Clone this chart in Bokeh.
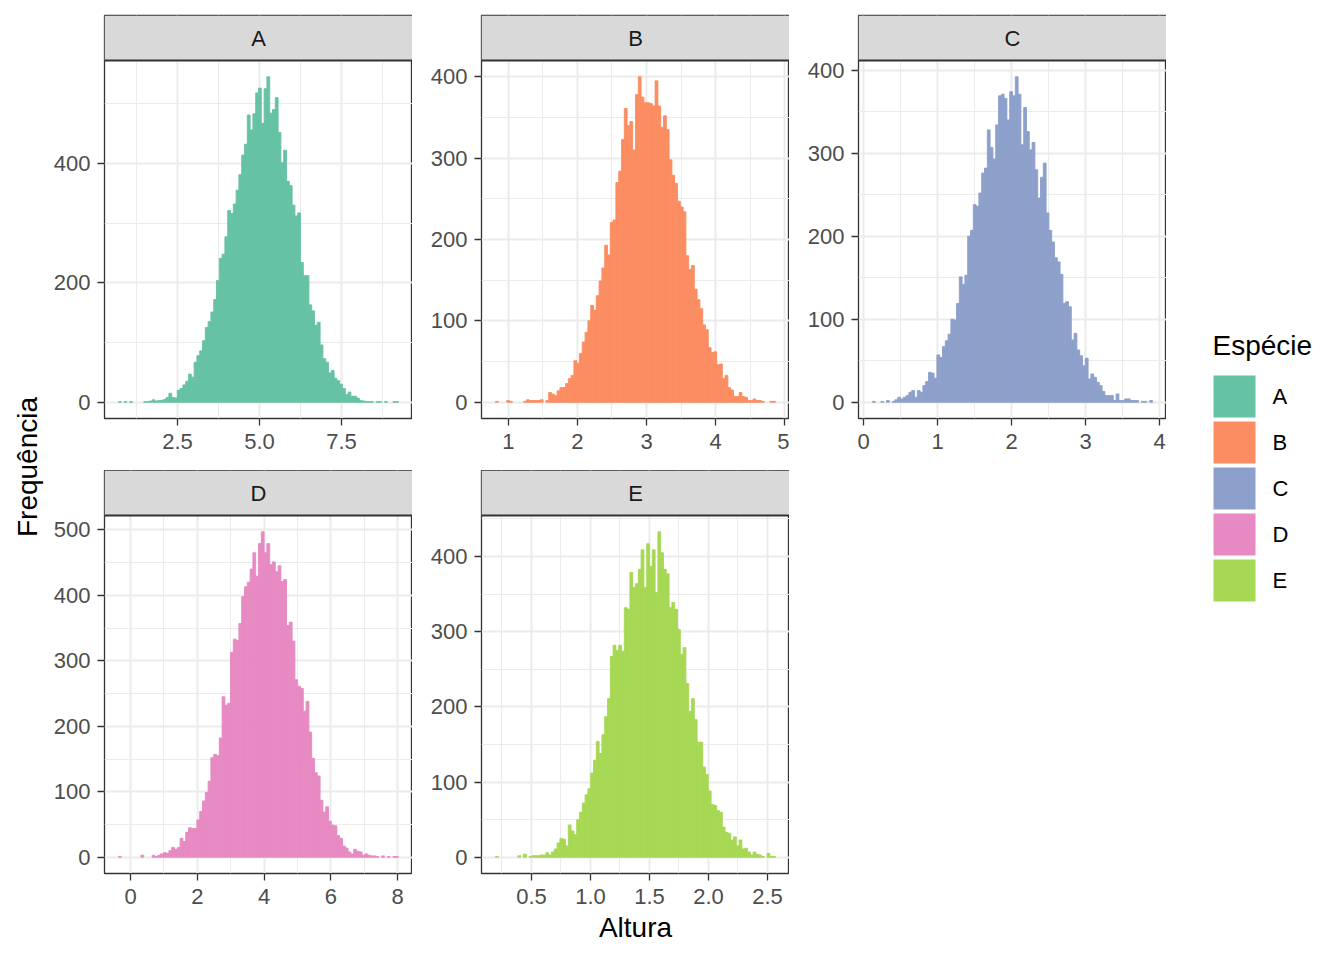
import math
from bokeh.plotting import figure
from bokeh.layouts import row, column
from bokeh.models import Range1d, FixedTicker, Span
from bokeh.core.properties import value
from bokeh.embed import file_html
from bokeh.resources import INLINE

# ---------------- data ----------------
species = ["A", "B", "C", "D", "E"]
colors = ["#66C2A5", "#FC8D62", "#8DA0CB", "#E78AC3", "#A6D854"]

counts_A = [1, 0, 1, 0, 1, 0, 0, 0, 0, 1, 1, 2, 4, 2, 3, 3, 5, 8, 15, 8,
            7, 20, 23, 29, 35, 47, 42, 67, 78, 86, 103, 125, 135, 151, 172, 204, 241, 248, 277, 321,
            316, 332, 355, 381, 414, 432, 481, 456, 483, 518, 526, 467, 525, 545, 484, 490, 510, 452, 401, 422,
            370, 363, 330, 312, 317, 234, 212, 212, 163, 153, 129, 134, 96, 73, 67, 49, 53, 40, 36, 30,
            23, 13, 17, 10, 10, 7, 3, 2, 1, 1, 1, 0, 1, 1, 0, 1, 0, 0, 1, 1]
counts_B = [1, 0, 0, 0, 2, 1, 0, 0, 0, 0, 1, 3, 2, 2, 2, 2, 3, 0, 2, 12,
            10, 8, 14, 18, 18, 23, 29, 33, 51, 48, 60, 74, 86, 100, 119, 113, 131, 149, 165, 193,
            181, 221, 224, 270, 284, 323, 361, 340, 345, 310, 378, 400, 375, 368, 368, 367, 364, 395, 364, 338,
            352, 335, 298, 279, 269, 247, 240, 234, 180, 163, 168, 139, 126, 115, 95, 89, 67, 61, 62, 46,
            47, 29, 33, 18, 15, 7, 7, 12, 7, 6, 2, 2, 4, 2, 2, 1, 0, 0, 1, 1]
counts_C = [1, 0, 0, 1, 0, 2, 0, 1, 3, 6, 4, 6, 8, 12, 14, 6, 14, 12, 20, 25,
            36, 35, 29, 57, 54, 67, 74, 82, 100, 99, 119, 151, 142, 153, 200, 207, 238, 236, 252, 276,
            282, 328, 307, 293, 334, 369, 371, 366, 340, 374, 369, 392, 371, 310, 355, 326, 304, 313, 280, 246,
            271, 288, 228, 207, 193, 174, 169, 154, 119, 121, 115, 75, 83, 63, 56, 44, 53, 28, 34, 30,
            24, 20, 13, 8, 8, 8, 2, 10, 2, 2, 4, 4, 2, 2, 2, 0, 1, 1, 0, 2]
counts_D = [1, 0, 0, 0, 0, 0, 0, 0, 3, 0, 0, 0, 3, 1, 3, 5, 7, 6, 10, 15,
            12, 15, 29, 24, 38, 45, 44, 44, 57, 70, 86, 99, 116, 152, 157, 155, 182, 245, 232, 235,
            313, 333, 331, 357, 398, 413, 420, 440, 465, 429, 479, 497, 465, 479, 447, 451, 436, 445, 421, 424,
            354, 359, 330, 271, 261, 258, 223, 238, 191, 151, 129, 124, 87, 69, 77, 55, 49, 48, 33, 29,
            17, 14, 8, 5, 12, 9, 8, 3, 5, 3, 2, 2, 1, 0, 2, 0, 1, 0, 1, 1]
counts_E = [1, 0, 0, 0, 0, 0, 0, 0, 2, 0, 4, 0, 1, 2, 2, 2, 3, 3, 6, 3,
            7, 11, 19, 25, 24, 15, 43, 35, 30, 50, 60, 72, 83, 91, 112, 129, 154, 138, 163, 187,
            211, 267, 282, 275, 282, 274, 332, 330, 379, 359, 364, 383, 409, 359, 417, 387, 409, 352, 433, 405,
            383, 377, 332, 339, 330, 303, 270, 279, 231, 194, 211, 183, 153, 153, 120, 110, 88, 70, 69, 62,
            60, 40, 33, 32, 23, 27, 15, 23, 11, 12, 7, 3, 7, 4, 3, 1, 0, 5, 1, 1]
counts = [counts_A, counts_B, counts_C, counts_D, counts_E]

# first and last bin edge of each histogram (Altura)
bin_start = [0.701, 0.812, 0.121, -0.36, 0.195]
bin_end = [9.238, 4.869, 3.905, 8.03, 2.568]

x_ticks = [[2.5, 5.0, 7.5], [1, 2, 3, 4, 5], [0, 1, 2, 3, 4], [0, 2, 4, 6, 8],
           [0.5, 1.0, 1.5, 2.0, 2.5]]
x_tick_labels = [["2.5", "5.0", "7.5"], ["1", "2", "3", "4", "5"], ["0", "1", "2", "3", "4"],
                 ["0", "2", "4", "6", "8"], ["0.5", "1.0", "1.5", "2.0", "2.5"]]
x_minor = [[1.25, 3.75, 6.25, 8.75], [1.5, 2.5, 3.5, 4.5], [0.5, 1.5, 2.5, 3.5], [1, 3, 5, 7],
           [0.25, 0.75, 1.25, 1.75, 2.25]]
y_ticks = [[0, 200, 400], [0, 100, 200, 300, 400], [0, 100, 200, 300, 400],
           [0, 100, 200, 300, 400, 500], [0, 100, 200, 300, 400]]
y_minor = [[100, 300, 500], [50, 150, 250, 350], [50, 150, 250, 350],
           [50, 150, 250, 350, 450], [50, 150, 250, 350, 450]]

x_title = "Altura"
y_title = "Frequência"
legend_title = "Espécie"

# ---------------- style ----------------
FONT = "Liberation Sans"
DARK = "#333333"
GRID = "#ebebeb"
STRIP_PX = 45
PANEL_PX = 358
TOTAL_H = 953


def panel(i, width, left, top, bottom, xlabel=None):
    c = counts[i]
    n = len(c)
    w = (bin_end[i] - bin_start[i]) / n
    lefts = [bin_start[i] + k * w for k in range(n)]
    rights = [l + w for l in lefts]
    span = bin_end[i] - bin_start[i]
    xlo, xhi = bin_start[i] - 0.05 * span, bin_end[i] + 0.05 * span
    ymax = max(c)
    ylo, yhi = -0.05 * ymax, 1.05 * ymax
    ystrip = yhi + STRIP_PX * (yhi - ylo) / PANEL_PX
    p = figure(width=width, height=top + STRIP_PX + PANEL_PX + bottom,
               output_backend="svg", toolbar_location=None,
               x_range=Range1d(xlo, xhi), y_range=Range1d(ylo, ystrip),
               min_border_left=left, min_border_right=0, min_border_top=top,
               min_border_bottom=bottom)
    p.quad(left=lefts, right=rights, bottom=0, top=c, fill_color=colors[i],
           line_color=colors[i], line_width=0.9,
           line_alpha=[1 if v > 0 else 0 for v in c])
    # facet strip
    p.quad(left=[xlo], right=[xhi], bottom=[yhi], top=[ystrip], fill_color="#d9d9d9",
           line_color=None)
    p.add_layout(Span(location=yhi, dimension="width", line_color=DARK, line_width=2))
    p.text(x=[(xlo + xhi) / 2], y=[(yhi + ystrip) / 2], text=[species[i]],
           text_align="center", text_baseline="middle", text_font=value(FONT),
           text_font_size="22px", text_color="#1a1a1a")

    p.xaxis.ticker = FixedTicker(ticks=x_ticks[i], minor_ticks=x_minor[i])
    p.xaxis.major_label_overrides = dict(zip(x_ticks[i], x_tick_labels[i]))
    p.yaxis.ticker = FixedTicker(ticks=y_ticks[i], minor_ticks=y_minor[i])
    for ax in (p.xaxis[0], p.yaxis[0]):
        ax.axis_line_color = None
        ax.major_tick_line_color = DARK
        ax.major_tick_line_width = 1.3
        ax.major_tick_out = 7
        ax.major_tick_in = 0
        ax.minor_tick_line_color = None
        ax.major_label_text_font = FONT
        ax.major_label_text_font_size = "22px"
        ax.major_label_text_color = "#4d4d4d"
    p.xaxis.major_label_standoff = 8
    p.yaxis.major_label_standoff = 7
    if xlabel:
        p.xaxis.axis_label = xlabel
        p.xaxis.axis_label_text_font = FONT
        p.xaxis.axis_label_text_font_size = "28px"
        p.xaxis.axis_label_text_font_style = "normal"
        p.xaxis.axis_label_text_color = "black"
        p.xaxis.axis_label_standoff = 5
    for g in (p.xgrid[0], p.ygrid[0]):
        g.grid_line_color = GRID
        g.grid_line_width = 2
        g.minor_grid_line_color = GRID
        g.minor_grid_line_width = 1
    p.outline_line_color = DARK
    p.outline_line_width = 1.3
    p.background_fill_color = "white"
    p.border_fill_color = "white"
    return p


# left title column
ytf = figure(width=48, height=TOTAL_H, output_backend="svg", toolbar_location=None,
             x_range=Range1d(0, 48), y_range=Range1d(TOTAL_H, 0),
             x_axis_location=None, y_axis_location=None, min_border=0)
ytf.grid.visible = False
ytf.outline_line_color = None
ytf.text(x=[27], y=[466.5], text=[y_title], angle=math.pi / 2, text_align="center",
         text_baseline="middle", text_font=value(FONT), text_font_size="28px",
         text_color="black")

# panels (strip drawn inside each panel)
pA = panel(0, 364, 56, 15, 52)
pD = panel(3, 364, 56, 0, 80)
pB = panel(1, 377, 69, 15, 52)
pE = panel(4, 377, 69, 0, 80, xlabel=x_title)
pC = panel(2, 377, 69, 15, 52)

# legend column
lg = figure(width=170, height=TOTAL_H, output_backend="svg", toolbar_location=None,
            x_range=Range1d(0, 170), y_range=Range1d(TOTAL_H, 0),
            x_axis_location=None, y_axis_location=None, min_border=0)
lg.grid.visible = False
lg.outline_line_color = None
tops = [375 + 46 * k for k in range(len(species))]
lg.quad(left=47, right=89, top=tops, bottom=[t + 42 for t in tops], fill_color=colors,
        line_color=None)
lg.text(x=[106] * len(species), y=[t + 21 for t in tops], text=species, text_align="left",
        text_baseline="middle", text_font=value(FONT), text_font_size="22px",
        text_color="black")
lg.text(x=[46], y=[345], text=[legend_title], text_align="left", text_baseline="middle",
        text_font=value(FONT), text_font_size="28px", text_color="black")

layout = row(ytf, column(pA, pD), column(pB, pE), column(pC), lg)

open("out.html", "w").write(file_html(layout, INLINE))
